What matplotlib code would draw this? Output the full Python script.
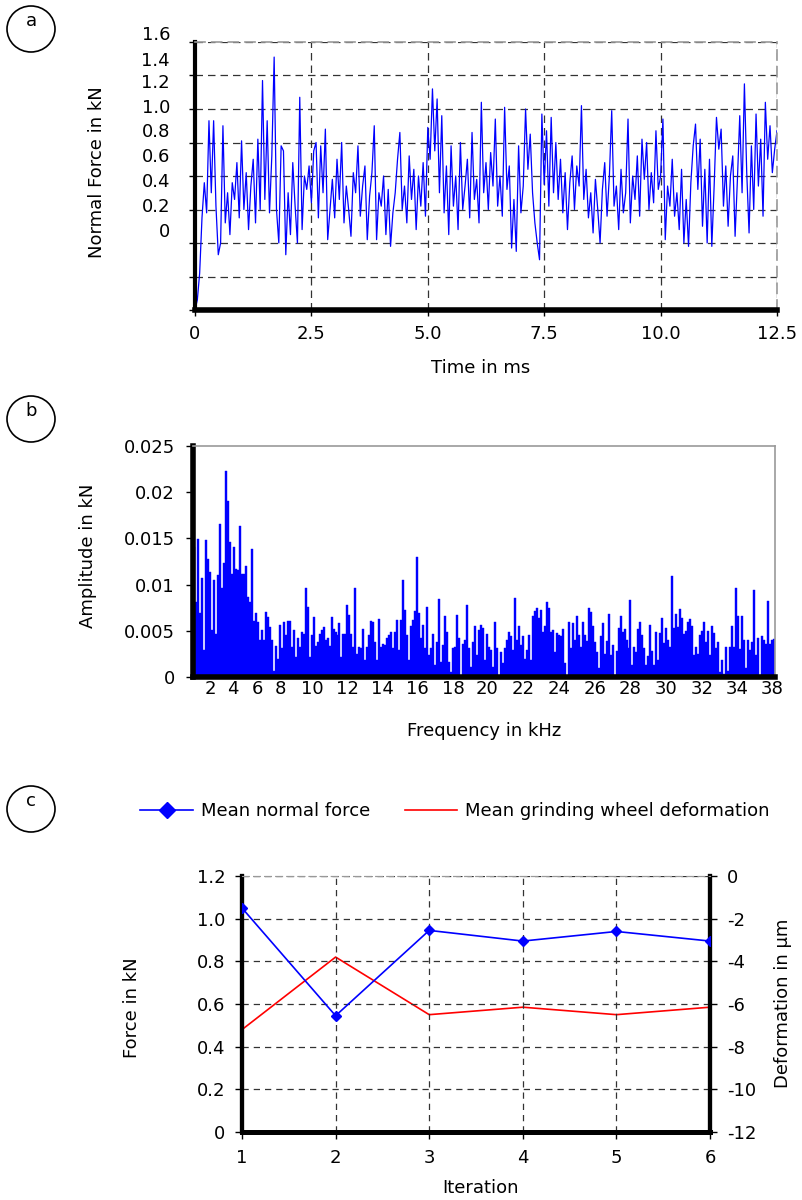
import numpy as np
import matplotlib.pyplot as plt
from matplotlib.lines import Line2D
from matplotlib.patches import Ellipse

plt.rcParams['font.family'] = ['DejaVu Sans']
plt.rcParams['font.size'] = 13

# ---------------- datos ----------------
# (a) fuerza normal, una muestra cada 0.05 ms (escala de la rejilla 0..1.6)
time_step = 0.05
normal_force = [
    0.00, 0.06, 0.22, 0.55, 0.76, 0.58, 1.13, 0.70, 1.13, 0.62,
    0.33, 0.40, 1.10, 0.52, 0.70, 0.45, 0.76, 0.66, 0.88, 0.55,
    1.01, 0.60, 0.82, 0.48, 0.74, 0.90, 0.52, 1.02, 0.60, 1.37,
    0.66, 1.13, 0.58, 0.92, 1.51, 0.60, 0.40, 0.98, 0.95, 0.33,
    0.70, 0.45, 0.88, 0.62, 0.40, 1.27, 0.48, 0.80, 0.72, 0.86,
    0.64, 0.95, 1.00, 0.55, 0.98, 0.70, 1.08, 0.42, 0.60, 0.78,
    0.55, 0.90, 0.66, 1.00, 0.52, 0.74, 0.60, 0.44, 0.82, 0.70,
    0.98, 0.56, 0.74, 0.86, 0.42, 0.68, 0.82, 1.10, 0.42, 0.70,
    0.62, 0.80, 0.45, 0.72, 0.38, 0.58, 0.70, 0.90, 1.06, 0.60,
    0.74, 0.52, 0.92, 0.66, 0.84, 0.48, 0.80, 0.62, 0.88, 0.56,
    1.09, 0.90, 1.32, 0.95, 1.26, 0.70, 1.16, 0.58, 0.86, 0.45,
    0.98, 0.62, 0.80, 0.48, 1.00, 0.60, 0.74, 0.90, 0.55, 1.06,
    0.66, 0.78, 0.52, 1.24, 0.70, 0.88, 0.60, 0.94, 0.74, 1.14,
    0.62, 0.80, 0.56, 1.21, 0.72, 0.86, 0.37, 0.66, 0.35, 0.98,
    0.58, 0.74, 1.20, 0.84, 1.05, 0.70, 0.52, 0.40, 0.30, 1.17,
    0.75, 1.07, 0.62, 1.15, 0.70, 1.00, 0.66, 0.90, 0.58, 0.82,
    0.48, 0.76, 0.92, 0.60, 0.86, 0.74, 1.22, 0.66, 0.84, 0.55,
    0.70, 0.46, 0.78, 0.60, 0.40, 0.72, 0.88, 0.56, 0.80, 1.19,
    0.62, 0.74, 0.48, 0.84, 0.58, 0.70, 1.14, 0.52, 0.80, 0.66,
    0.92, 0.56, 1.02, 0.78, 1.00, 0.60, 0.82, 0.64, 1.07, 0.72,
    0.80, 1.14, 0.42, 0.74, 0.62, 0.90, 0.56, 0.70, 0.48, 0.84,
    0.40, 0.66, 0.38, 0.76, 0.98, 1.11, 0.72, 1.02, 0.50, 0.84,
    0.40, 0.90, 0.38, 0.74, 1.15, 0.96, 1.08, 0.62, 0.86, 0.50,
    0.80, 0.92, 0.44, 0.78, 1.16, 0.70, 1.35, 0.82, 0.46, 0.98,
    0.60, 1.17, 0.74, 1.02, 0.56, 1.24, 0.90, 1.10, 0.82, 0.96, 1.07,
]
time_ms = np.arange(len(normal_force)) * time_step
time_ticks = [0, 2.5, 5.0, 7.5, 10.0, 12.5]
time_ticklabels = ['0', '2.5', '5.0', '7.5', '10.0', '12.5']
force_ticklabels = ['1.6', '1.4', '1.2', '1.0', '0.8', '0.6', '0.4', '0.2', '0']

# (b) espectro, amplitudes en 1e-3 kN
amplitude = np.array([
    14.1, 8.1, 14.9, 6.9, 10.7, 2.9, 14.8, 12.8, 11.4, 5.1,
    10.5, 4.7, 11.0, 16.6, 9.6, 12.3, 22.3, 19.0, 14.6, 11.2,
    14.1, 11.7, 11.6, 16.3, 11.2, 11.2, 12.0, 8.7, 8.1, 13.9,
    6.1, 6.9, 6.0, 4.0, 5.1, 4.0, 7.0, 6.5, 5.4, 4.0,
    0.7, 3.4, 2.0, 5.6, 3.1, 5.9, 4.5, 6.1, 6.1, 3.3,
    5.1, 2.2, 4.2, 3.3, 4.9, 4.7, 9.6, 7.6, 2.2, 4.5,
    6.5, 3.4, 3.8, 4.7, 5.1, 5.4, 4.0, 4.2, 3.4, 6.5,
    5.2, 4.9, 4.5, 5.8, 2.2, 4.7, 4.7, 7.8, 6.7, 4.7,
    3.3, 9.6, 2.5, 3.3, 3.1, 5.2, 1.8, 3.3, 4.5, 6.1,
    6.0, 3.8, 1.8, 6.3, 3.3, 3.6,
    3.5, 4.2, 4.5, 4.9, 3.1, 4.9, 6.2, 2.9, 6.2, 10.5,
    7.2, 4.5, 1.8, 5.5, 6.2, 7.1, 13.0, 6.9, 4.2, 5.6,
    3.1, 7.6, 2.4, 3.1, 4.7, 1.3, 3.8, 8.4, 1.6, 3.5,
    6.6, 4.9, 1.6, 0.5, 3.1, 3.3, 6.7, 4.2, 0.0, 3.6,
    4.0, 7.8, 3.1, 1.1, 3.8, 5.5, 2.4, 5.1, 5.6, 5.3,
    1.8, 4.7, 3.3, 2.9, 1.1, 5.9, 3.1, 0.0, 2.7, 1.5,
    3.1, 4.0, 4.9, 4.4, 2.9, 8.6, 4.0, 5.5, 3.5, 4.4,
    2.0, 2.9, 4.5, 1.8, 6.6, 7.1, 7.5, 6.4, 7.2, 4.9,
    5.5, 8.1, 7.5, 4.9, 5.1, 2.7, 4.8, 4.5, 4.4, 5.2,
    1.5, 0.0, 6.0, 3.1, 5.8, 4.0, 6.6, 4.5, 3.3, 6.0,
    4.5, 3.9, 7.5, 7.0, 5.5, 3.8, 2.7, 1.0, 4.4, 5.8,
    2.5, 3.9, 6.8, 2.4, 3.5, 0.2, 2.8, 5.3, 6.6, 4.9,
    5.2, 4.0, 3.1, 8.3, 1.3, 3.2, 2.7, 5.2, 5.9, 4.5,
    3.1, 1.3, 2.3, 5.6, 2.8, 1.3, 4.9, 1.8, 4.8, 6.4,
    3.7, 5.3, 4.0, 3.2, 10.9, 5.3, 6.8, 5.4, 7.4, 6.4,
    4.7, 5.0, 6.0, 6.3, 5.5, 2.4, 3.3, 2.5, 4.5, 5.0,
    6.0, 3.8, 5.0, 2.4, 5.5, 4.8, 3.1, 3.8, 0.5, 1.8,
    0.3, 3.2, 0.6, 3.3, 5.5, 3.3, 9.6, 6.6, 3.0, 6.6,
    4.0, 1.0, 4.0, 2.9, 3.8, 9.4, 2.4, 4.2, 0.2, 4.4,
    4.0, 3.6, 8.2, 3.6, 4.0, 4.1,
]) / 1000
freq_labels = ['2', '4', '6', '8', '10', '12', '14', '16', '18', '20',
               '22', '24', '26', '28', '30', '32', '34', '38']
amp_ticks = [0, 0.005, 0.01, 0.015, 0.02, 0.025]
amp_ticklabels = ['0', '0.005', '0.01', '0.015', '0.02', '0.025']

# (c) iteraciones
iteration = [1, 2, 3, 4, 5, 6]
mean_force = [1.05, 0.545, 0.945, 0.895, 0.94, 0.895]
mean_deformation = [-7.2, -3.8, -6.5, -6.15, -6.5, -6.15]

# ---------------- figura ----------------
W, H = 803, 1200
fig = plt.figure(figsize=(W / 100, H / 100), dpi=100)


def fx(px):
    return px / W


def fy(py):
    return 1 - py / H


def box(left, top, right, bottom):
    return [fx(left), fy(bottom), (right - left) / W, (bottom - top) / H]


dash = (0, (6, 4))

# posiciones de las etiquetas (en pixeles de la figura)
force_label_py = [35, 61, 83, 108, 132, 157, 182, 207, 232]
freq_label_px = [210, 233, 257, 280, 312, 347, 382, 417, 453, 487,
                 523, 559, 595, 630, 666, 702, 737, 772]

# ---- (a) ----
ax_a = fig.add_axes(box(195, 42, 777, 310))
ax_a.plot(time_ms, normal_force, color='#0000ff', lw=0.9)
ax_a.set_xlim(0, 12.5)
ax_a.set_ylim(0, 1.6)
ax_a.set_xticks(time_ticks)
ax_a.set_xticklabels(time_ticklabels)
ax_a.set_yticks(np.arange(0, 1.61, 0.2))
ax_a.set_yticklabels([])
ax_a.tick_params(length=4, width=1, pad=7)
ax_a.grid(True, ls=dash, color='#333333', lw=0.9)
for s in ['left', 'bottom']:
    ax_a.spines[s].set_color('black')
ax_a.spines['left'].set_linewidth(3)
ax_a.spines['bottom'].set_linewidth(4)
for s in ['top', 'right']:
    ax_a.spines[s].set_color('#999999')
    ax_a.spines[s].set_linestyle(dash)
    ax_a.spines[s].set_linewidth(1.2)
for lab, py in zip(force_ticklabels, force_label_py):
    fig.text(fx(170), fy(py), lab, ha='right', va='center')
fig.text(fx(97), fy(172), 'Normal Force in kN', rotation=90, ha='center', va='center')
fig.text(fx(481), fy(368), 'Time in ms', ha='center', va='center')

# ---- (b) ----
ax_b = fig.add_axes(box(193, 446, 775, 677))
n = len(amplitude)
idx = np.arange(n)
ax_b.bar(idx, amplitude, width=1.0, color='#0000ff', edgecolor='#0000ff', lw=0.3)
ax_b.set_xlim(-0.5, n - 0.5)
ax_b.set_ylim(0, 0.025)
ax_b.set_yticks(amp_ticks)
ax_b.set_yticklabels(amp_ticklabels)
ax_b.set_xticks([])
ax_b.tick_params(axis='y', length=5, width=1, pad=8)
ax_b.spines['left'].set_linewidth(4)
ax_b.spines['bottom'].set_linewidth(4)
for s in ['top', 'right']:
    ax_b.spines[s].set_color('#999999')
    ax_b.spines[s].set_linewidth(1.2)
for lab, px in zip(freq_labels, freq_label_px):
    fig.text(fx(px), fy(689), lab, ha='center', va='center')
fig.text(fx(88), fy(556), 'Amplitude in kN', rotation=90, ha='center', va='center')
fig.text(fx(484), fy(731), 'Frequency in kHz', ha='center', va='center')

# ---- (c) ----
ax_c = fig.add_axes(box(242, 876, 710, 1132))
ax_d = ax_c.twinx()
ax_c.plot(iteration, mean_force, color='#0000ff', lw=1.2, marker='D', ms=5, zorder=3)
ax_d.plot(iteration, mean_deformation, color='#ff0000', lw=1.2)
ax_c.set_xlim(1, 6)
ax_c.set_ylim(0, 1.2)
ax_d.set_ylim(-12, 0)
ax_c.set_xticks(iteration)
ax_c.set_yticks(np.arange(0, 1.21, 0.2))
ax_c.set_yticklabels(['0', '0.2', '0.4', '0.6', '0.8', '1.0', '1.2'])
ax_d.set_yticks(np.arange(-12, 1, 2))
ax_d.set_yticklabels(['-12', '-10', '-8', '-6', '-4', '-2', '0'])
ax_c.tick_params(length=5, width=1, pad=7)
ax_d.tick_params(length=5, width=1, pad=7)
ax_c.grid(True, ls=(0, (5, 4)), color='#333333', lw=0.9)
ax_c.set_axisbelow(True)
for a in (ax_c, ax_d):
    a.spines['left'].set_linewidth(3)
    a.spines['right'].set_linewidth(3)
    a.spines['bottom'].set_linewidth(3.5)
    a.spines['top'].set_color('#999999')
    a.spines['top'].set_linestyle(dash)
ax_c.set_zorder(ax_d.get_zorder() + 1)
ax_c.patch.set_visible(False)
fig.text(fx(132), fy(1008), 'Force in kN', rotation=90, ha='center', va='center')
fig.text(fx(783), fy(1003), 'Deformation in µm', rotation=90, ha='center', va='center')
fig.text(fx(481), fy(1188), 'Iteration', ha='center', va='center')

handles = [Line2D([], [], color='#0000ff', lw=1.2, marker='D', ms=8),
           Line2D([], [], color='#ff0000', lw=1.2)]
fig.legend(handles, ['Mean normal force', 'Mean grinding wheel deformation'],
           loc='center', bbox_to_anchor=(fx(455), fy(811)), ncol=2, frameon=False,
           handlelength=2.9, handletextpad=0.45, columnspacing=1.9, fontsize=13)

# ---- circulos con letras ----
for letter, cy in zip(['a', 'b', 'c'], [29, 419, 809]):
    fig.add_artist(Ellipse((fx(31), fy(cy)), 48 / W, 46 / H, transform=fig.transFigure,
                           fill=False, lw=1.2, color='black'))
    fig.text(fx(31), fy(cy - 8), letter, ha='center', va='center')

fig.savefig('out.png', dpi=100)
